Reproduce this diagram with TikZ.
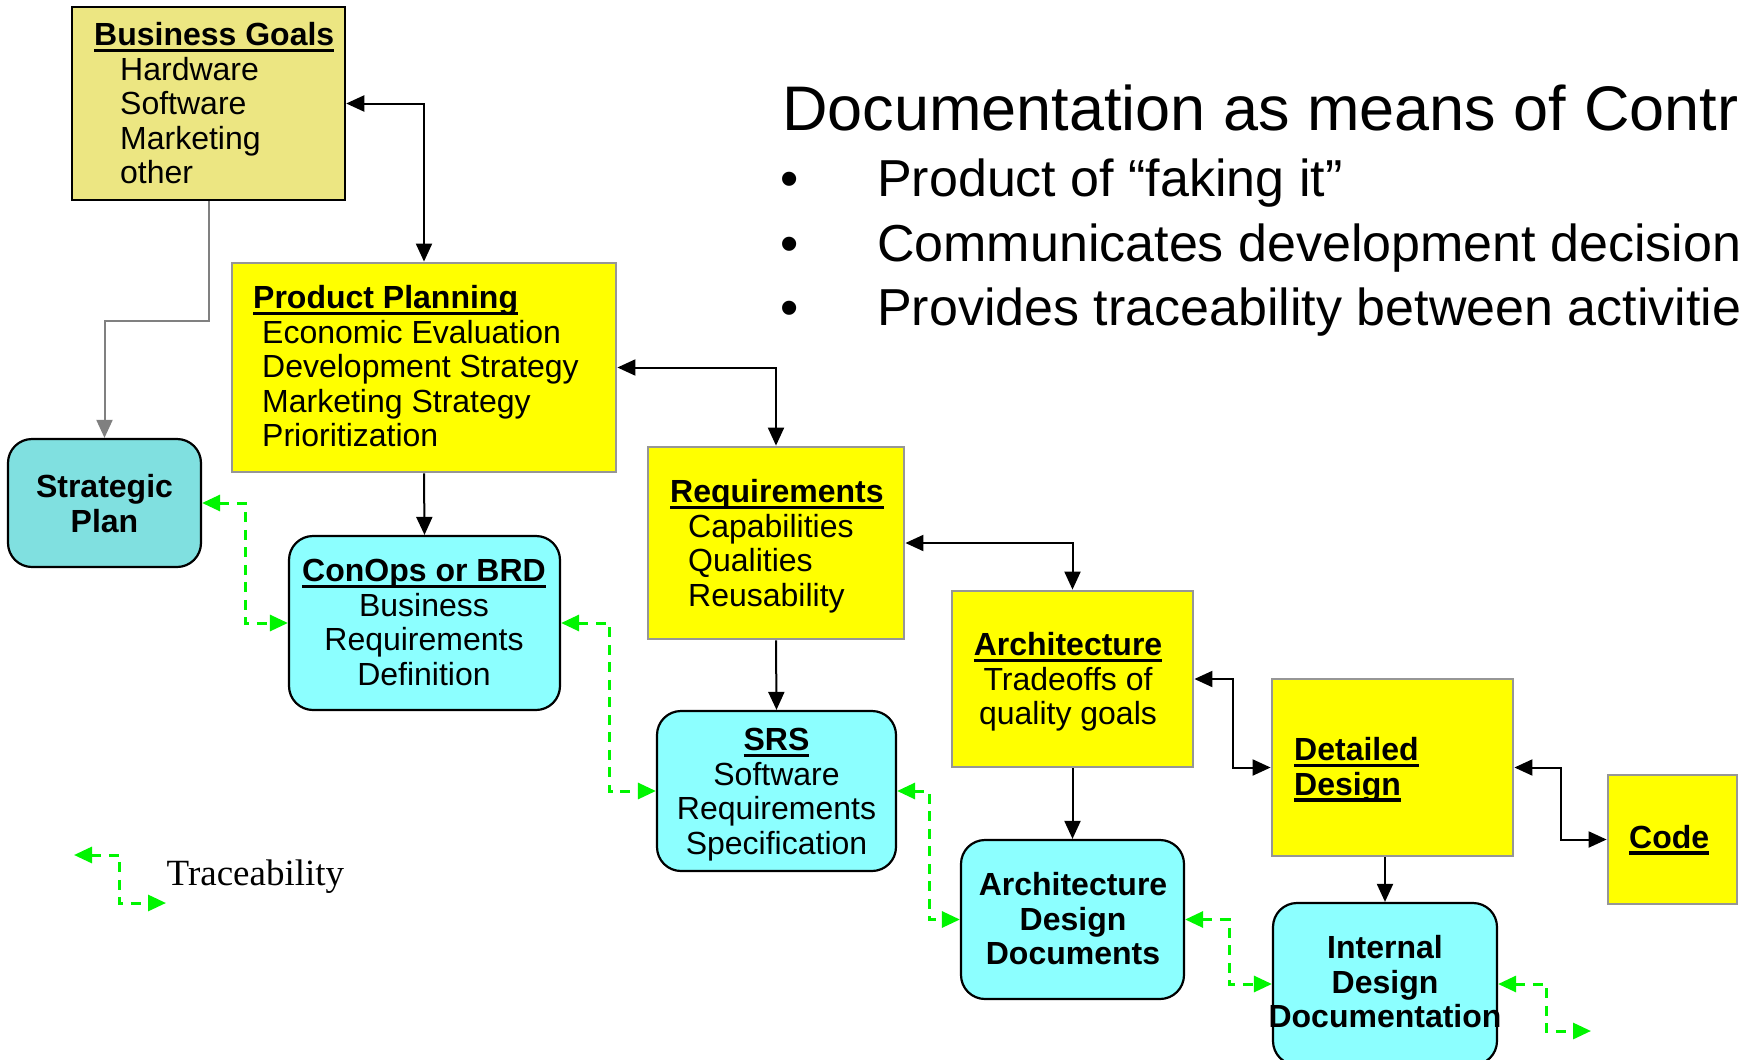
\documentclass[tikz,border=0pt]{standalone}
\usepackage{fontspec}
\setmainfont{Liberation Sans}
\newfontfamily\legendfont{Liberation Serif}
\usetikzlibrary{arrows.meta}

\definecolor{planfill}{RGB}{255,255,0}
\definecolor{khakibox}{RGB}{236,230,130}
\definecolor{tealbox}{RGB}{128,224,224}
\definecolor{cyanbox}{RGB}{140,255,255}
\definecolor{frame}{RGB}{150,150,150}
\definecolor{trace}{RGB}{0,245,0}
\definecolor{feed}{RGB}{128,128,128}

% underlined heading with a heavy rule
\newcommand\ulin[1]{\setbox0=\hbox{#1}\rlap{\rule[-6.5pt]{\wd0}{3.5pt}}\box0}

\begin{document}
\begin{tikzpicture}[x=1pt,y=-1pt,
  twoway/.style={{Triangle[length=18pt,width=16pt]}-{Triangle[length=18pt,width=16pt]}},
  oneway/.style={-{Triangle[length=18pt,width=16pt]}},
  boxtext/.style={font=\fontsize{32}{34.5}\selectfont, inner sep=0pt, text=black},
  plan/.style={draw=frame, fill=planfill, line width=2.8pt, inner sep=0pt},
  goal/.style={draw=black, fill=khakibox, line width=2.5pt, inner sep=0pt},
  doc/.style={draw=black, fill=cyanbox, line width=2.2pt, rounded corners=24pt, inner sep=0pt},
  flow/.style={draw=black, line width=2pt},
  feedline/.style={draw=feed, line width=2pt},
  tracer/.style={draw=trace, line width=3pt, dash pattern=on 10pt off 7.5pt},
  bullet/.style={font=\fontsize{52}{60}\selectfont, inner sep=0pt, anchor=base west},
]
\useasboundingbox (0,0) rectangle (1740,1060);
\fill[white] (0,0) rectangle (1740,1060);
\clip (0,0) rectangle (1740,1060);

% heading and bullet list
\node[font=\fontsize{63}{70}\selectfont, inner sep=0pt, anchor=base west] (title) at (782,130) {Documentation as means of Control};
\node[bullet] (d1) at (780,196.7) {•};
\node[bullet] (t1) at (877,196.7) {Product of “faking it”};
\node[bullet] (d2) at (780,261.5) {•};
\node[bullet] (t2) at (877,261.5) {Communicates development decisions};
\node[bullet] (d3) at (780,325.5) {•};
\node[bullet] (t3) at (877,325.5) {Provides traceability between activities};

% activity boxes
\node[goal, minimum width=273pt, minimum height=193pt] (bg) at (208.5,103.5) {};
\node[plan, minimum width=384pt, minimum height=209pt] (pp) at (424,367.5) {};
\node[plan, minimum width=256pt, minimum height=192pt] (req) at (776,543) {};
\node[plan, minimum width=241pt, minimum height=176pt] (arch) at (1072.5,679) {};
\node[plan, minimum width=241pt, minimum height=177pt] (dd) at (1392.5,767.5) {};
\node[plan, minimum width=129pt, minimum height=129pt] (code) at (1672.5,839.5) {};

% document boxes
\node[doc, fill=tealbox, minimum width=193pt, minimum height=128pt] (sp) at (104.5,503) {};
\node[doc, minimum width=271pt, minimum height=174pt] (conops) at (424.5,623) {};
\node[doc, minimum width=239pt, minimum height=160pt] (srs) at (776.5,791) {};
\node[doc, minimum width=223pt, minimum height=159pt] (add) at (1072.5,919.5) {};
\node[doc, minimum width=224pt, minimum height=162pt] (idd) at (1385,984) {};

% box texts (each placed at the baseline of its last line)
\node[boxtext, anchor=base west, align=left] (bgtxt) at (94,183.5)
  {\textbf{\ulin{Business Goals}}\\\hspace*{26pt}Hardware\\\hspace*{26pt}Software\\\hspace*{26pt}Marketing\\\hspace*{26pt}other};
\node[boxtext, anchor=base west, align=left] (pptxt) at (253,446.5)
  {\textbf{\ulin{Product Planning}}\\\hspace*{9pt}Economic Evaluation\\\hspace*{9pt}Development Strategy\\\hspace*{9pt}Marketing Strategy\\\hspace*{9pt}Prioritization};
\node[boxtext, anchor=base west, align=left] (reqtxt) at (670,606)
  {\textbf{\ulin{Requirements}}\\\hspace*{18pt}Capabilities\\\hspace*{18pt}Qualities\\\hspace*{18pt}Reusability};
\node[boxtext, anchor=base, align=center] (archtxt) at (1068,724.5)
  {\textbf{\ulin{Architecture}}\\Tradeoffs of\\quality goals};
\node[boxtext, anchor=base west, align=left] (ddtxt) at (1294,795)
  {\textbf{\ulin{Detailed}}\\\textbf{\ulin{Design}}};
\node[boxtext, anchor=base west] (codetxt) at (1629,848) {\textbf{\ulin{Code}}};

\node[boxtext, anchor=base, align=center, font=\fontsize{32}{34.5}\selectfont\bfseries] (sptxt) at (104.5,532)
  {Strategic\\Plan};
\node[boxtext, anchor=base, align=center] (conopstxt) at (424,685)
  {\textbf{\ulin{ConOps or BRD}}\\Business\\Requirements\\Definition};
\node[boxtext, anchor=base, align=center] (srstxt) at (776.5,854)
  {\textbf{\ulin{SRS}}\\Software\\Requirements\\Specification};
\node[boxtext, anchor=base, align=center, font=\fontsize{32}{34.5}\selectfont\bfseries] (addtxt) at (1073,964.5)
  {Architecture\\Design\\Documents};
\node[boxtext, anchor=base, align=center, font=\fontsize{32}{34.5}\selectfont\bfseries] (iddtxt) at (1385,1027.5)
  {Internal\\Design\\Documentation};

% development flow
\draw[flow, twoway] (bg.east) -| (pp.north);
\draw[flow, twoway] (pp.east) -| (req.north);
\draw[flow, twoway] (req.east) -| (arch.north);
\draw[flow, twoway] (arch.east) -- ++(39,0) |- (dd.west);
\draw[flow, twoway] (dd.east) -- ++(47,0) |- (code.west);
\draw[flow, oneway] (pp.south) -- (conops.north);
\draw[flow, oneway] (req.south) -- (srs.north);
\draw[flow, oneway] (arch.south) -- (add.north);
\draw[flow, oneway] (dd.south -| idd.north) -- (idd.north);
\draw[feedline, oneway] (bg.south) -- ++(0,120) -| (sp.north);

% traceability links
\draw[tracer, twoway] (sp.east) -- ++(43,0) |- (conops.west);
\draw[tracer, twoway] (conops.east) -- ++(48,0) |- (srs.west);
\draw[tracer, twoway] (srs.east) -- ++(32,0) |- (add.west);
\draw[tracer, twoway] (add.east) -- ++(44,0) |- (idd.west);
\coordinate (iddout) at (1591,1031);
\draw[tracer, twoway] (idd.east) -- ++(48,0) |- (iddout);

% legend
\coordinate (lgA) at (74,855);
\coordinate (lgB) at (166,903);
\draw[tracer, twoway] (lgA) -- ++(45,0) |- (lgB);
\node[inner sep=0pt, anchor=base west, font=\legendfont\fontsize{37}{40}\selectfont] (lgtxt) at (166.5,885) {Traceability};
\end{tikzpicture}
\end{document}
